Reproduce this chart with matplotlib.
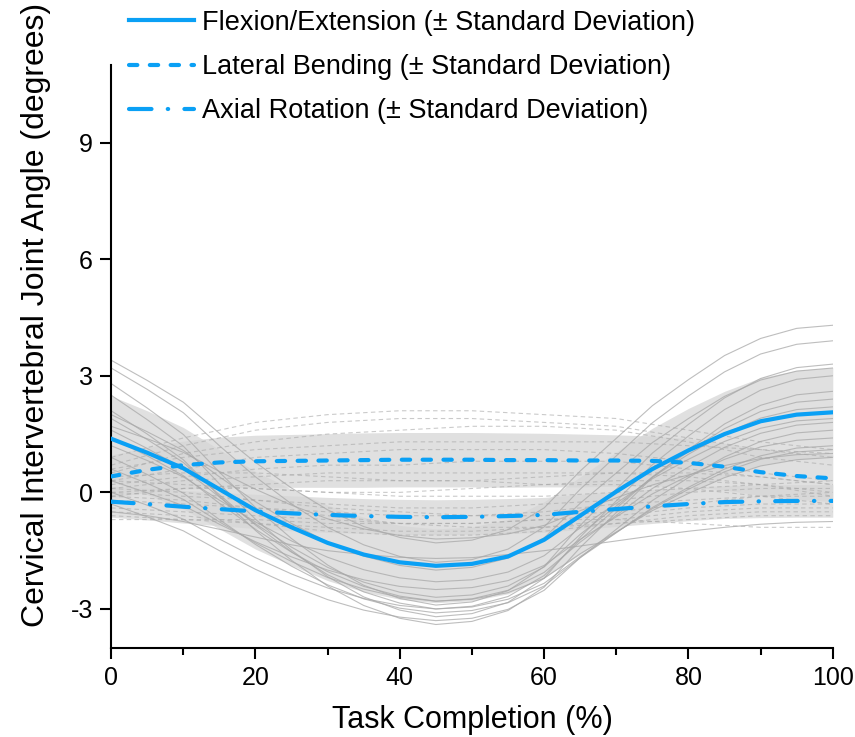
import numpy as np
import matplotlib.pyplot as plt
from matplotlib.ticker import MultipleLocator

plt.rcParams['font.family'] = ['Liberation Sans', 'DejaVu Sans']
plt.rcParams['axes.unicode_minus'] = False

# mean curves, every 5 % of the task
pct = [0, 5, 10, 15, 20, 25, 30, 35, 40, 45, 50, 55, 60, 65, 70, 75, 80, 85, 90, 95, 100]
fe_mean = [1.38, 1.02, 0.62, 0.08, -0.46, -0.90, -1.30, -1.60, -1.80, -1.89, -1.84,
           -1.65, -1.22, -0.60, 0.02, 0.60, 1.08, 1.50, 1.83, 2.00, 2.06]
fe_sd = [1.10, 1.08, 1.05, 1.02, 1.00, 0.98, 0.97, 0.96, 0.95, 0.95, 0.95,
         0.96, 0.98, 1.00, 1.02, 1.05, 1.08, 1.10, 1.12, 1.14, 1.15]
lb_mean = [0.41, 0.58, 0.70, 0.77, 0.80, 0.81, 0.82, 0.83, 0.84, 0.84, 0.84,
           0.83, 0.83, 0.82, 0.82, 0.81, 0.76, 0.66, 0.52, 0.42, 0.36]
lb_sd = [0.55, 0.58, 0.62, 0.65, 0.67, 0.68, 0.69, 0.70, 0.70, 0.70, 0.70,
         0.70, 0.69, 0.68, 0.66, 0.64, 0.62, 0.60, 0.60, 0.60, 0.60]
ar_mean = [-0.24, -0.30, -0.37, -0.43, -0.49, -0.54, -0.58, -0.61, -0.63, -0.64, -0.63,
           -0.61, -0.58, -0.50, -0.43, -0.36, -0.30, -0.25, -0.23, -0.22, -0.22]
ar_sd = [0.40, 0.41, 0.42, 0.43, 0.44, 0.45, 0.45, 0.45, 0.45, 0.45, 0.45,
         0.45, 0.45, 0.45, 0.45, 0.44, 0.43, 0.42, 0.42, 0.42, 0.42]

# individual flexion/extension trials, every 5 %
fe_trials = [
    [3.4, 2.88, 2.32, 1.52, 0.77, 0.11, -0.45, -0.88, -1.16, -1.3, -1.23,
     -0.96, -0.40, 0.55, 1.39, 2.23, 2.9, 3.52, 3.96, 4.22, 4.3],
    [3.2, 2.65, 2.05, 1.2, 0.4, -0.3, -0.9, -1.35, -1.65, -1.8, -1.73,
     -1.46, -0.89, 0.08, 0.94, 1.79, 2.48, 3.1, 3.56, 3.81, 3.9],
    [2.8, 2.17, 1.49, 0.52, -0.39, -1.19, -1.87, -2.39, -2.73, -2.9, -2.82,
     -2.53, -1.91, -0.85, 0.08, 1.01, 1.75, 2.43, 2.93, 3.21, 3.3],
    [2.5, 1.87, 1.19, 0.22, -0.69, -1.49, -2.17, -2.69, -3.03, -3.2, -3.12,
     -2.83, -2.21, -1.15, -0.22, 0.71, 1.45, 2.13, 2.63, 2.91, 3.0],
    [2.1, 1.5, 0.84, -0.1, -0.98, -1.75, -2.41, -2.91, -3.24, -3.4, -3.32,
     -3.04, -2.44, -1.42, -0.52, 0.38, 1.1, 1.76, 2.24, 2.51, 2.6],
    [1.9, 1.36, 0.77, -0.06, -0.84, -1.53, -2.12, -2.56, -2.85, -3.0, -2.93,
     -2.68, -2.14, -1.22, -0.41, 0.4, 1.05, 1.64, 2.08, 2.32, 2.4],
    [1.6, 1.13, 0.61, -0.12, -0.81, -1.41, -1.93, -2.31, -2.57, -2.7, -2.64,
     -2.41, -1.92, -1.08, -0.35, 0.39, 0.98, 1.51, 1.91, 2.13, 2.2],
    [1.4, 0.94, 0.43, -0.28, -0.95, -1.54, -2.04, -2.42, -2.67, -2.8, -2.74,
     -2.52, -2.06, -1.28, -0.59, 0.1, 0.65, 1.16, 1.52, 1.73, 1.8],
    [1.2, 0.82, 0.4, -0.2, -0.76, -1.25, -1.67, -1.99, -2.2, -2.3, -2.25,
     -2.05, -1.63, -0.91, -0.28, 0.35, 0.85, 1.31, 1.65, 1.84, 1.9],
    [0.9, 0.46, -0.02, -0.7, -1.34, -1.9, -2.38, -2.74, -2.98, -3.1, -3.04,
     -2.84, -2.41, -1.68, -1.04, -0.39, 0.13, 0.6, 0.94, 1.14, 1.2],
    [0.6, 0.23, -0.18, -0.76, -1.3, -1.78, -2.19, -2.49, -2.7, -2.8, -2.75,
     -2.58, -2.21, -1.58, -1.02, -0.47, -0.03, 0.38, 0.68, 0.84, 0.9],
    [0.3, -0.01, -0.34, -0.82, -1.27, -1.66, -2.0, -2.25, -2.42, -2.5, -2.45,
     -2.27, -1.88, -1.21, -0.63, -0.04, 0.43, 0.85, 1.17, 1.34, 1.4],
    [0.0, -0.33, -0.69, -1.2, -1.68, -2.1, -2.46, -2.73, -2.91, -3.0, -2.95,
     -2.75, -2.34, -1.65, -1.03, -0.42, 0.08, 0.53, 0.85, 1.04, 1.1],
    [-0.3, -0.63, -0.99, -1.5, -1.98, -2.4, -2.76, -3.03, -3.21, -3.3, -3.24,
     -3.01, -2.52, -1.68, -0.95, -0.21, 0.38, 0.91, 1.31, 1.53, 1.6],
    [-0.5, -0.6, -0.75, -0.95, -1.15, -1.35, -1.5, -1.6, -1.67, -1.7, -1.68,
     -1.6, -1.5, -1.38, -1.25, -1.12, -1.0, -0.9, -0.82, -0.77, -0.75],
    [2.0, 1.56, 1.08, 0.4, -0.24, -0.8, -1.28, -1.64, -1.88, -2.0, -1.93,
     -1.69, -1.17, -0.28, 0.5, 1.28, 1.9, 2.47, 2.89, 3.12, 3.2],
    [1.7, 1.38, 1.03, 0.54, 0.08, -0.33, -0.68, -0.94, -1.11, -1.2, -1.17,
     -1.07, -0.85, -0.47, -0.14, 0.19, 0.45, 0.69, 0.87, 0.97, 1.0],
]

# lateral bending / axial rotation trials, every 10 %
trial_pct = [0, 10, 20, 30, 40, 50, 60, 70, 80, 90, 100]
lb_trials = [
    [0.9, 1.4, 1.8, 2.0, 2.1, 2.1, 2.0, 1.9, 1.6, 1.3, 1.1],
    [0.7, 1.2, 1.6, 1.8, 1.9, 1.9, 1.8, 1.7, 1.4, 1.1, 0.9],
    [0.5, 1.0, 1.3, 1.5, 1.6, 1.7, 1.7, 1.6, 1.3, 0.9, 0.7],
    [0.6, 0.9, 1.1, 1.2, 1.3, 1.3, 1.3, 1.3, 1.2, 1.1, 1.0],
    [0.3, 0.6, 0.9, 1.0, 1.1, 1.1, 1.1, 1.0, 0.8, 0.5, 0.3],
    [0.2, 0.4, 0.6, 0.7, 0.7, 0.8, 0.8, 0.8, 0.6, 0.4, 0.2],
    [0.1, 0.3, 0.4, 0.5, 0.5, 0.5, 0.5, 0.5, 0.4, 0.2, 0.0],
    [0.4, 0.5, 0.5, 0.4, 0.3, 0.3, 0.4, 0.5, 0.5, 0.4, 0.2],
    [-0.1, 0.1, 0.2, 0.3, 0.3, 0.3, 0.2, 0.2, 0.1, -0.1, -0.3],
    [0.0, 0.1, 0.1, 0.0, 0.0, 0.1, 0.2, 0.3, 0.3, 0.2, -0.1],
]
ar_trials = [
    [0.3, 0.2, 0.1, 0.0, -0.1, -0.1, -0.1, 0.0, 0.1, 0.2, 0.3],
    [0.0, -0.1, -0.2, -0.3, -0.4, -0.4, -0.3, -0.2, 0.0, 0.1, 0.1],
    [-0.2, -0.3, -0.4, -0.5, -0.6, -0.6, -0.5, -0.3, -0.2, -0.1, -0.1],
    [-0.4, -0.5, -0.6, -0.7, -0.8, -0.8, -0.7, -0.6, -0.4, -0.3, -0.3],
    [-0.6, -0.7, -0.8, -0.9, -1.0, -1.0, -0.9, -0.8, -0.7, -0.6, -0.6],
    [-0.5, -0.6, -0.8, -1.0, -1.1, -1.1, -1.0, -0.8, -0.6, -0.5, -0.5],
    [-0.1, -0.2, -0.4, -0.6, -0.8, -0.9, -0.9, -0.7, -0.5, -0.4, -0.4],
    [-0.7, -0.7, -0.7, -0.8, -0.8, -0.8, -0.7, -0.7, -0.8, -0.9, -0.9],
    [0.1, 0.0, -0.2, -0.4, -0.5, -0.6, -0.6, -0.5, -0.3, -0.1, 0.0],
]

labels = ['Flexion/Extension (\u00b1 Standard Deviation)',
          'Lateral Bending (\u00b1 Standard Deviation)',
          'Axial Rotation (\u00b1 Standard Deviation)']

blue = '#0aa0f5'
band = '#d6d6d6'
trace = '#a8a8a8'

fig = plt.figure(figsize=(8.55, 7.37), dpi=100)
ax = fig.add_axes([0.130, 0.121, 0.844, 0.791])

# shaded SD bands
for m, s in [(fe_mean, fe_sd), (lb_mean, lb_sd), (ar_mean, ar_sd)]:
    m = np.array(m)
    s = np.array(s)
    ax.fill_between(pct, m - s, m + s, color=band, alpha=0.75, lw=0, zorder=1)

# individual trials
for t in fe_trials:
    ax.plot(pct, t, color=trace, lw=0.8, alpha=0.75, zorder=2)
for t in lb_trials:
    ax.plot(trial_pct, t, color=trace, lw=0.8, ls=(0, (4, 3)), alpha=0.6, zorder=2)
for t in ar_trials:
    ax.plot(trial_pct, t, color=trace, lw=0.8, ls=(0, (4, 3)), alpha=0.6, zorder=2)

# means
l1, = ax.plot(pct, fe_mean, color=blue, lw=3, zorder=3, label=labels[0])
l2, = ax.plot(pct, lb_mean, color=blue, lw=3, ls=(0, (2.0, 3.0)),
              dash_capstyle='round', zorder=3, label=labels[1])
l3, = ax.plot(pct, ar_mean, color=blue, lw=3, ls=(0, (5.4, 3.9, 0.1, 3.9)),
              dash_capstyle='round', zorder=3, label=labels[2])

ax.set_xlim(0, 100)
ax.set_ylim(-4, 11)
ax.set_yticks([-3, 0, 3, 6, 9])
ax.xaxis.set_major_locator(MultipleLocator(20))
ax.xaxis.set_minor_locator(MultipleLocator(10))
ax.spines['top'].set_visible(False)
ax.spines['right'].set_visible(False)
for sp in ['left', 'bottom']:
    ax.spines[sp].set_linewidth(1.5)
ax.tick_params(axis='both', which='major', direction='out', length=8, width=1.5,
               labelsize=18, pad=5)
ax.tick_params(axis='x', which='minor', direction='out', length=5, width=1.5)

ax.set_xlabel('Task Completion (%)', fontsize=22, labelpad=11)
ax.set_ylabel('Cervical Intervertebral Joint Angle (degrees)', fontsize=23)
ax.yaxis.set_label_coords(-0.083, 0.571)

fig.legend(handles=[l1, l2, l3], loc='upper left', bbox_to_anchor=(0.122, 1.02),
           frameon=False, fontsize=19.5, handlelength=2.4, handletextpad=0.3,
           labelspacing=0.68)

fig.savefig('out.png', dpi=100)
